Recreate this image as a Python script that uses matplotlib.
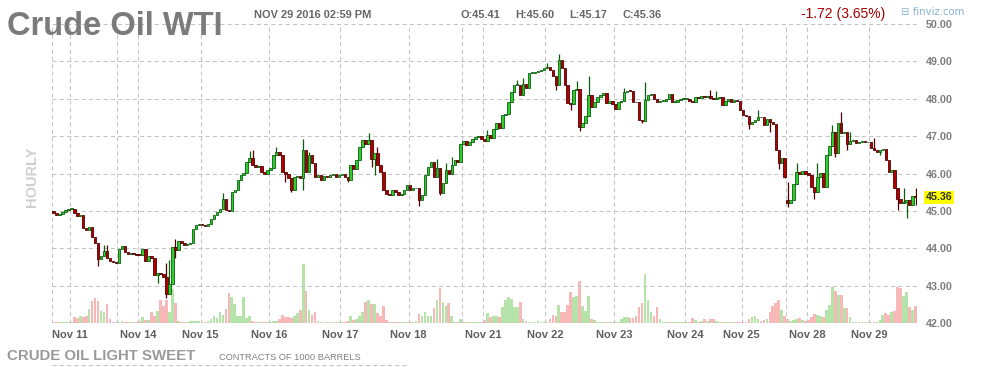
"""Crude Oil WTI hourly candles (finviz style) with volume underlay."""
import matplotlib
matplotlib.use("Agg")
import matplotlib.pyplot as plt
from matplotlib.transforms import blended_transform_factory

plt.rcParams["font.family"] = ["Liberation Sans", "DejaVu Sans"]

W, H = 988, 367

# hourly closes, one per candle (Nov 10 evening .. Nov 29 14:00)
closes = [
    44.93, 44.88, 44.92, 44.97, 45.03, 45.05, 45.06, 44.95, 44.85, 44.90,
    44.53, 44.48, 44.58, 44.30, 44.15, 43.70, 43.78, 43.93, 43.75, 43.65,
    43.62, 43.60, 43.98, 44.05, 43.90, 43.85, 43.87, 43.85, 43.83, 43.82,
    43.97, 43.65, 43.78, 43.75, 43.28, 43.35, 43.30, 43.22, 42.78, 43.05,
    44.03, 43.95, 44.20, 44.15, 44.10, 44.12, 44.15, 44.52, 44.62, 44.65,
    44.62, 44.60, 44.66, 44.77, 44.88, 44.97, 45.05, 45.33, 45.02, 45.00,
    45.50, 45.55, 45.82, 45.95, 46.02, 46.31, 46.42, 46.22, 46.18, 46.20,
    46.05, 45.98, 46.10, 46.15, 46.50, 46.57, 46.50, 46.04, 45.98, 45.87,
    45.55, 45.90, 45.92, 45.88, 46.62, 46.04, 46.50, 46.27, 45.91, 45.97,
    45.82, 45.92, 45.90, 45.97, 45.98, 45.90, 45.97, 45.98, 45.90, 45.82,
    46.22, 46.12, 46.36, 46.71, 46.90, 46.78, 46.90, 46.40, 46.55, 46.22,
    46.04, 45.55, 45.45, 45.43, 45.57, 45.50, 45.42, 45.45, 45.57, 45.70,
    45.55, 45.60, 45.62, 45.28, 45.42, 45.95, 46.18, 46.30, 45.90, 46.15,
    45.47, 45.74, 46.09, 46.00, 46.22, 46.35, 46.30, 46.80, 46.88, 46.75,
    46.85, 46.93, 46.98, 47.00, 46.93, 46.88, 47.02, 46.95, 47.20, 47.34,
    47.22, 47.56, 47.58, 47.92, 48.19, 48.37, 48.37, 48.10, 48.40, 48.30,
    48.68, 48.70, 48.72, 48.75, 48.78, 48.82, 48.86, 48.78, 48.60, 48.37,
    49.04, 48.82, 48.37, 47.88, 47.85, 48.23, 48.25, 47.25, 47.35, 47.55,
    48.10, 47.78, 47.90, 48.05, 48.10, 48.15, 47.88, 47.95, 47.85, 47.72,
    47.90, 47.95, 48.18, 48.22, 48.20, 47.92, 47.90, 47.43, 47.40, 47.96,
    48.10, 48.14, 48.00, 47.90, 47.95, 47.95, 48.00, 48.12, 47.92, 47.92,
    47.97, 48.00, 48.00, 48.00, 47.95, 47.90, 48.05, 48.03, 48.07, 48.05,
    48.08, 48.03, 48.00, 48.03, 48.06, 47.83, 47.95, 47.98, 47.92, 47.96,
    47.95, 47.70, 47.56, 47.55, 47.32, 47.38, 47.44, 47.52, 47.50, 47.30,
    47.45, 47.38, 47.33, 46.64, 46.28, 46.42, 45.91, 45.22, 45.30, 45.73,
    46.04, 46.00, 46.07, 46.00, 45.95, 45.64, 45.51, 45.90, 46.00, 45.64,
    46.49, 46.73, 47.12, 46.54, 47.34, 47.08, 47.10, 46.80, 46.88, 46.90,
    46.82, 46.83, 46.88, 46.83, 46.85, 46.68, 46.62, 46.58, 46.62, 46.66,
    46.36, 46.04, 46.10, 45.60, 45.33, 45.20, 45.25, 45.30, 45.15, 45.41,
    45.36,
]
# opens that do not equal the previous close (first bar, weekend gap)
gap_opens = {0: 45.00, 247: 45.30}
# visible wicks (candle index -> price)
highs = {17: 44.10, 18: 44.08, 38: 43.60, 39: 43.68, 41: 44.24, 57: 45.47,
         66: 46.60, 67: 46.62, 75: 46.72, 84: 46.91, 86: 46.58, 106: 47.09,
         109: 46.70, 129: 46.38, 132: 46.27, 134: 46.45, 146: 47.16,
         156: 48.50, 158: 48.55, 166: 48.95, 170: 49.20, 176: 48.48,
         180: 48.62, 192: 48.30, 199: 48.45, 221: 48.23, 223: 48.20,
         237: 47.70, 247: 45.78, 250: 46.27, 257: 46.27, 262: 47.29,
         265: 47.65, 268: 47.12, 276: 46.95, 286: 45.60, 290: 45.60}
lows = {15: 43.52, 35: 43.06, 38: 42.68, 41: 43.73, 78: 45.78, 80: 45.50,
        84: 45.55, 99: 45.78, 107: 46.18, 108: 45.96, 123: 45.13, 130: 45.42,
        169: 48.23, 174: 47.70, 177: 47.14, 198: 47.35, 234: 47.18,
        241: 47.12, 244: 46.13, 246: 45.87, 247: 45.11, 256: 45.33,
        263: 46.45, 267: 46.62, 278: 46.49, 284: 45.02, 287: 44.80, 290: 45.17}

volume = [
    1, 1, 1, 1, 1, 1, 1, 6, 5, 7,
    6, 7, 14, 22, 25, 22, 12, 11, 19, 4,
    1, 1, 1, 2, 1, 1, 1, 1, 1, 2,
    6, 3, 3, 11, 7, 12, 23, 17, 23, 11,
    34, 20, 2, 1, 1, 1, 2, 2, 2, 2,
    1, 1, 2, 4, 7, 5, 11, 8, 14, 30,
    26, 19, 7, 7, 26, 5, 7, 2, 1, 1,
    1, 1, 1, 1, 2, 2, 4, 8, 6, 6,
    5, 7, 10, 13, 59, 32, 13, 8, 11, 2,
    1, 1, 1, 1, 1, 1, 1, 1, 1, 2,
    7, 3, 4, 7, 11, 21, 23, 19, 19, 10,
    7, 17, 3, 1, 1, 1, 1, 1, 1, 1,
    1, 1, 2, 9, 7, 11, 7, 7, 15, 23,
    35, 21, 17, 20, 7, 1, 1, 4, 1, 1,
    1, 1, 1, 1, 1, 3, 10, 6, 7, 7,
    6, 16, 23, 26, 24, 16, 16, 21, 4, 2,
    1, 1, 1, 2, 1, 1, 1, 4, 8, 7,
    18, 11, 11, 18, 31, 26, 27, 42, 17, 12,
    27, 4, 3, 1, 1, 1, 1, 1, 1, 1,
    1, 4, 6, 6, 5, 5, 7, 16, 20, 49,
    23, 11, 7, 16, 4, 1, 1, 1, 1, 1,
    1, 1, 1, 1, 1, 5, 3, 1, 2, 4,
    2, 4, 4, 2, 1, 1, 1, 1, 1, 1,
    1, 1, 1, 1, 4, 6, 7, 4, 2, 3,
    4, 11, 17, 20, 23, 13, 7, 4, 2, 3,
    4, 5, 3, 2, 3, 6, 9, 8, 7, 6,
    13, 18, 36, 32, 28, 28, 15, 15, 6, 1,
    1, 1, 1, 1, 1, 1, 1, 1, 3, 8,
    10, 8, 11, 12, 36, 35, 27, 31, 16, 13,
    17,
]

day_labels = ["Nov 11", "Nov 14", "Nov 15", "Nov 16", "Nov 17", "Nov 18", "Nov 21",
              "Nov 22", "Nov 23", "Nov 24", "Nov 25", "Nov 28", "Nov 29"]
day_start = [6, 29, 50, 73, 97, 120, 145, 166, 189, 213, 232, 254, 275]
weekend_start = [22, 138, 247]
price_ticks = [42, 43, 44, 45, 46, 47, 48, 49, 50]
last_price = 45.36
quote = {"O": 45.41, "H": 45.60, "L": 45.17, "C": 45.36}
change, change_pct = -1.72, 3.65

UP, UP_EDGE = "#2ecc2e", "#0b5f0b"
DN, DN_EDGE = "#b00000", "#500000"
GRID = "#c4c4c4"
DASH = (0, (4, 3))

n = len(closes)
opens = [gap_opens.get(i, closes[i - 1] if i else closes[0]) for i in range(n)]
up = [c >= o for o, c in zip(opens, closes)]
x = [i + 0.5 for i in range(n)]

fig = plt.figure(figsize=(W / 100, H / 100), dpi=100)
ax = fig.add_axes([52 / W, 1 - 323 / H, 865 / W, 299 / H])
ax.set_xlim(0, n)
ax.set_ylim(42, 50)
for s in ax.spines.values():
    s.set_visible(False)

# dashed grid
for p in price_ticks:
    ax.axhline(p, color=GRID, lw=0.75, ls=DASH, zorder=0)
for b in [0] + day_start + weekend_start + [n]:
    ax.axvline(b, color=GRID, lw=0.75, ls=DASH, zorder=0)

# volume underlay on its own scale
axv = ax.twinx()
axv.set_ylim(0, max(volume) / 0.197)
axv.bar(x, volume, width=0.9, color=["#b6e3aa" if u else "#f8b8b8" for u in up],
        linewidth=0, zorder=1)
axv.set_yticks([])
for s in axv.spines.values():
    s.set_visible(False)
axv.set_zorder(ax.get_zorder() - 1)
ax.patch.set_visible(False)

# candles
for i in range(n):
    o, c = opens[i], closes[i]
    hi = max(highs.get(i, 0), o, c)
    lo = min(lows.get(i, 99), o, c)
    edge = UP_EDGE if up[i] else DN_EDGE
    if hi > max(o, c) or lo < min(o, c):
        ax.vlines(x[i], lo, hi, color=edge, lw=0.9, zorder=2)
    ax.bar(x[i], max(abs(c - o), 0.025), bottom=min(o, c), width=0.84,
           color=UP if up[i] else DN, edgecolor=edge, linewidth=0.6, zorder=3)

# right price axis
ax.set_xticks([])
ax.yaxis.tick_right()
ax.set_yticks(price_ticks)
ax.set_yticklabels([f"{p:.2f}" for p in price_ticks], fontsize=7.7,
                   fontweight="bold", color="#7d7d7d")
ax.tick_params(axis="y", length=0, pad=6.5)
ytr = blended_transform_factory(ax.transAxes, ax.transData)
ax.text(1 + 9 / 865, last_price, f"{last_price:.2f}", transform=ytr, fontsize=7.7,
        fontweight="bold", color="#333333", va="center", ha="left",
        bbox=dict(facecolor="#ffff00", edgecolor="none", pad=1.2))

# date labels under the axis
xtr = blended_transform_factory(ax.transData, fig.transFigure)
for lab, pos in zip(day_labels, day_start):
    ax.text(pos, 1 - 338.3 / H, lab, transform=xtr, ha="center", va="baseline",
            fontsize=8, fontweight="bold", color="#5f5f5f")

# top edge of the next (cut off) panel
fig.add_artist(plt.Line2D([52 / W, 408 / W], [1 - 365 / H] * 2, color=GRID, lw=0.75,
                          ls=DASH))

# header
fig.text(7 / W, 1 - 35 / H, "Crude Oil WTI", fontsize=23.5, fontweight="bold",
         color="#7b7b7b", va="baseline")
hdr = dict(fontsize=7.9, fontweight="bold", color="#666666", va="baseline")
fig.text(254 / W, 1 - 18.3 / H, "NOV 29 2016 02:59 PM", **hdr)
for (k, v), px in zip(quote.items(), [460, 515, 569, 622]):
    fig.text(px / W, 1 - 18.3 / H, f"{k}:{v:.2f}", **hdr)
fig.text(801 / W, 1 - 17.8 / H, f"{change:.2f} ({change_pct:.2f}%)", fontsize=10,
         color="#a80000", va="baseline")
fig.text(901 / W, 1 - 15 / H, "\u229f finviz.com", fontsize=7.3, color="#86b4d4",
         va="baseline", family=["DejaVu Sans"])

# side / footer labels
fig.text(32 / W, 1 - 177 / H, "HOURLY", rotation=90, fontsize=10.5, fontweight="bold",
         color="#cfcfcf", ha="center", va="center")
fig.text(7 / W, 1 - 360 / H, "CRUDE OIL LIGHT SWEET", fontsize=10.8, fontweight="bold",
         color="#9a9a9a", va="baseline")
fig.text(219 / W, 1 - 359.5 / H, "CONTRACTS OF 1000 BARRELS", fontsize=6.7,
         color="#808080", va="baseline")

fig.savefig("out.png", dpi=100)
